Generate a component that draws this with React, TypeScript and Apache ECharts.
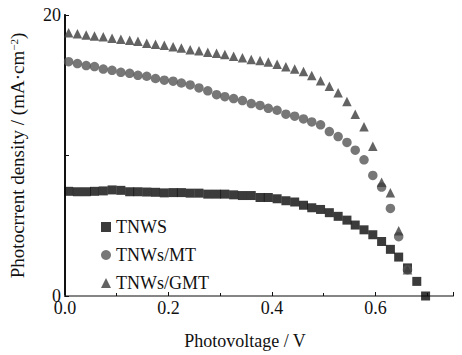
import React, { useEffect, useRef } from "react";
import * as echarts from "echarts";

// Voltage grid (V) shared by TNWs/MT and TNWs/GMT
const voltage = [
  0.007, 0.024, 0.041, 0.057, 0.074, 0.091, 0.108, 0.125, 0.141, 0.158,
  0.175, 0.192, 0.209, 0.225, 0.242, 0.259, 0.276, 0.293, 0.309, 0.326,
  0.343, 0.36, 0.377, 0.393, 0.41, 0.427, 0.444, 0.461, 0.477, 0.494,
  0.511, 0.528, 0.545, 0.561, 0.578, 0.595, 0.612, 0.629, 0.645, 0.662,
];
// Voltage grid for TNWS (extends further)
const voltageTNWS = [...voltage, 0.68, 0.697];

const jTNWS = [
  7.45, 7.42, 7.42, 7.45, 7.48, 7.55, 7.52, 7.42, 7.42, 7.4,
  7.38, 7.34, 7.36, 7.36, 7.32, 7.32, 7.25, 7.25, 7.25, 7.2,
  7.15, 7.15, 7.01, 7.01, 6.92, 6.78, 6.69, 6.46, 6.28, 6.16,
  5.93, 5.67, 5.4, 5.05, 4.71, 4.36, 3.88, 3.32, 2.77, 2.0,
  1.04, 0.0,
];
const jMT = [
  16.68, 16.54, 16.4, 16.33, 16.15, 16.06, 15.92, 15.85, 15.71, 15.64,
  15.48, 15.36, 15.29, 15.16, 15.02, 14.81, 14.6, 14.33, 14.19, 14.05,
  13.91, 13.7, 13.56, 13.36, 13.22, 12.94, 12.8, 12.6, 12.39, 12.18,
  11.7, 11.35, 10.93, 10.38, 9.69, 8.58, 7.75, 6.23, 4.22, 1.87,
];
const jGMT = [
  18.73, 18.66, 18.57, 18.5, 18.46, 18.34, 18.27, 18.2, 18.13, 17.99,
  17.92, 17.85, 17.74, 17.65, 17.53, 17.46, 17.35, 17.28, 17.18, 17.07,
  16.95, 16.84, 16.77, 16.66, 16.49, 16.31, 16.15, 15.97, 15.69, 15.32,
  14.93, 14.46, 13.84, 12.94, 12.04, 10.66, 8.1, 7.34, 4.64, 1.87,
];

const seriesNames = ["TNWS", "TNWs/MT", "TNWs/GMT"];
const yTicks = [0, 20];

const FONT = "'Liberation Serif', 'Times New Roman', serif";

export default function App() {
  const ref = useRef<HTMLDivElement>(null);
  useEffect(() => {
    if (!ref.current) return;
    const chart = echarts.init(ref.current, null, { renderer: "svg" });
    const zip = (xs: number[], ys: number[]) => ys.map((y, i) => [xs[i], y]);
    chart.setOption({
      animation: false,
      backgroundColor: "#fff",
      grid: { left: 58, right: 9, top: 15, bottom: 51 },
      legend: {
        orient: "vertical",
        left: 96,
        top: 213,
        itemGap: 10,
        itemWidth: 10,
        itemHeight: 10,
        textStyle: { fontFamily: FONT, fontSize: 18, color: "#111" },
        data: [
          { name: seriesNames[0], icon: "rect" },
          { name: seriesNames[1], icon: "circle" },
          { name: seriesNames[2], icon: "triangle" },
        ],
      },
      xAxis: [
        {
          type: "value",
          min: 0,
          max: 0.75,
          interval: 0.2,
          name: "Photovoltage / V",
          nameLocation: "middle",
          nameGap: 36,
          nameTextStyle: { fontFamily: FONT, fontSize: 18, color: "#111", padding: [0, 28, 0, 0] },
          axisLine: { lineStyle: { color: "#111", width: 1.5 } },
          axisTick: { inside: true, length: 4, lineStyle: { color: "#111" } },
          minorTick: { show: true, splitNumber: 2, length: 3, lineStyle: { color: "#111" } },
          axisLabel: {
            fontFamily: FONT,
            fontSize: 18,
            color: "#111",
            margin: 3,
            showMaxLabel: false,
            formatter: (v: number) => v.toFixed(1),
          },
          splitLine: { show: false },
        },
        {
          type: "value",
          position: "top",
          min: 0,
          max: 0.75,
          axisLine: { show: true, lineStyle: { color: "#999", width: 1.5 } },
          axisTick: { show: false },
          axisLabel: { show: false },
          splitLine: { show: false },
        },
      ],
      yAxis: [
        {
          type: "value",
          min: 0,
          max: 20,
          interval: 10,
          name: "{a|Photocrrent density / (mA·cm}{s|−2}{a|)}",
          nameLocation: "middle",
          nameGap: 38,
          nameTextStyle: {
            fontFamily: FONT,
            fontSize: 19,
            color: "#111",
            rich: {
              a: { fontFamily: FONT, fontSize: 19, color: "#111" },
              s: { fontFamily: FONT, fontSize: 11, color: "#111", verticalAlign: "top", padding: [0, 0, 8, 0] },
            },
          },
          axisLine: { show: true, lineStyle: { color: "#222", width: 1.5 } },
          axisTick: { inside: true, length: 4, lineStyle: { color: "#111" } },
          axisLabel: {
            fontFamily: FONT,
            fontSize: 18,
            color: "#111",
            margin: 4,
            formatter: (v: number) => (yTicks.includes(v) ? String(v) : ""),
          },
          splitLine: { show: false },
        },
        {
          type: "value",
          position: "right",
          min: 0,
          max: 20,
          axisLine: { show: true, lineStyle: { color: "#111", width: 2 } },
          axisTick: { show: false },
          axisLabel: { show: false },
          splitLine: { show: false },
        },
      ],
      series: [
        {
          name: seriesNames[0],
          type: "scatter",
          symbol: "rect",
          symbolSize: 9,
          itemStyle: { color: "#0a0a0a" },
          data: zip(voltageTNWS, jTNWS),
        },
        {
          name: seriesNames[1],
          type: "scatter",
          symbol: "circle",
          symbolSize: 9.5,
          itemStyle: { color: "#555555" },
          data: zip(voltage, jMT),
        },
        {
          name: seriesNames[2],
          type: "scatter",
          symbol: "triangle",
          symbolSize: 9.5,
          itemStyle: { color: "#3c3c3c" },
          data: zip(voltage, jGMT),
        },
      ],
    });
    return () => chart.dispose();
  }, []);
  return (
    <div
      ref={ref}
      style={{ position: "fixed", left: 0, top: 0, width: 462, height: 355, background: "#fff" }}
    />
  );
}
